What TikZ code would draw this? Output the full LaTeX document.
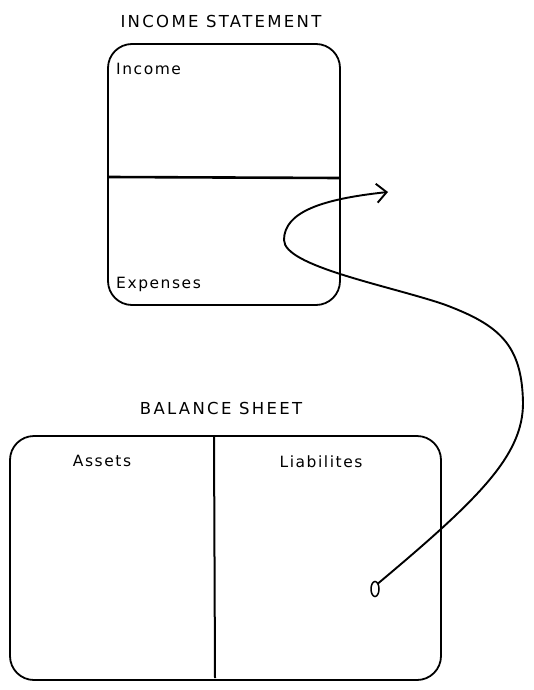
\documentclass[tikz,border=0pt]{standalone}
\usetikzlibrary{arrows.meta,shapes.geometric}
\usepackage{fontspec}
\setmainfont{DejaVu Sans}
\newfontfamily\ttlfont[LetterSpace=14]{DejaVu Sans}
\newfontfamily\lblfont[LetterSpace=10]{DejaVu Sans}
\begin{document}
\begin{tikzpicture}[x=1pt,y=-1pt,
  box/.style={draw, line width=1.8pt, rounded corners=24pt, inner sep=0pt},
  divider/.style={line width=2.6pt},
  vdiv/.style={line width=2pt},
  title/.style={font=\ttlfont\fontsize{16.5}{18}\selectfont, inner sep=0pt},
  lbl/.style={font=\lblfont\fontsize{15.5}{17}\selectfont, inner sep=0pt},
  flow/.style={line width=1.9pt, line cap=round, -{Straight Barb[length=10pt,width=19pt,line width=1.9pt]}}]
\useasboundingbox (0,0) rectangle (533,690);
% income statement
\node[title] (tinc) at (221,21) {INCOME STATEMENT};
\node[box, minimum width=232pt, minimum height=261pt] (inc) at (224,174.5) {};
\coordinate (dl) at (109,177);
\coordinate (dr) at (339,178);
\draw[divider] (dl) -- (dr);
\node[lbl, anchor=west] (income) at (116,69) {Income};
\node[lbl, anchor=west] (exp) at (116,284) {Expenses};
% balance sheet
\node[title] (tbal) at (221,408) {BALANCE SHEET};
\node[box, minimum width=431pt, minimum height=244pt] (bal) at (225.5,558) {};
\coordinate (vt) at (214,437);
\coordinate (vb) at (215,678);
\draw[vdiv] (vt) -- (vb);
\node[lbl] (assets) at (102,461) {Assets};
\node[lbl] (liab) at (321,462) {Liabilites};
% connector
\node[draw, ellipse, line width=1.5pt, minimum width=8pt, minimum height=15pt, inner sep=0pt] (s) at (375,589) {};
\coordinate (p1) at (523,403);
\coordinate (p2) at (443,304);
\coordinate (p3) at (284,240);
\coordinate (e) at (388,192);
\draw[flow] (s.north east) .. controls (480,498) and (523,455) .. (p1)
  .. controls (522,345) and (500,325) .. (p2)
  .. controls (386,285) and (284,266) .. (p3)
  .. controls (284,212) and (322,199) .. (e);
\end{tikzpicture}
\end{document}
